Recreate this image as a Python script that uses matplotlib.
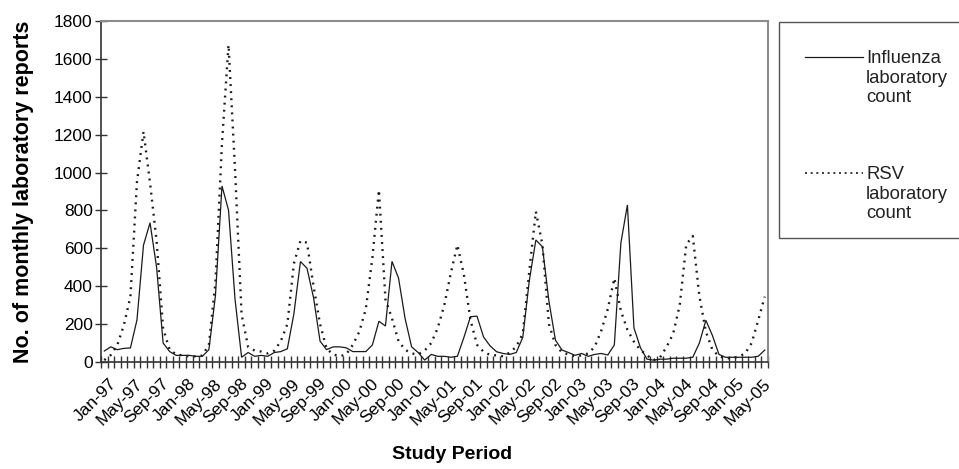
import matplotlib
matplotlib.use("Agg")
import matplotlib.pyplot as plt
import matplotlib.transforms as mtransforms
import numpy as np
import pandas as pd
from matplotlib.lines import Line2D
from matplotlib.patches import Rectangle

plt.rcParams["font.family"] = ["Liberation Sans", "DejaVu Sans"]

# monthly laboratory counts, Jan-97 .. Jun-05
months = pd.date_range("1997-01-01", periods=102, freq="MS")
month_labels = [d.strftime("%b-%y") for d in months]

influenza = [
    58, 80, 65, 72, 74, 222, 617, 735, 500, 100, 55, 35,      # 1997
    35, 35, 30, 30, 65, 350, 929, 802, 330, 25, 50, 30,       # 1998
    35, 30, 50, 55, 70, 255, 530, 495, 340, 110, 65, 80,      # 1999
    80, 75, 55, 55, 55, 90, 215, 190, 531, 443, 230, 80,      # 2000
    50, 10, 40, 30, 30, 25, 30, 130, 239, 242, 132, 85,       # 2001
    54, 45, 40, 50, 130, 430, 644, 609, 320, 115, 63, 50,     # 2002
    35, 45, 30, 40, 45, 37, 90, 628, 829, 180, 75, 15,        # 2003
    10, 15, 15, 20, 20, 20, 25, 100, 220, 140, 40, 25,        # 2004
    25, 25, 25, 25, 30, 63,                                   # 2005
]
rsv = [
    10, 37, 90, 195, 345, 950, 1216, 945, 640, 176, 65, 40,   # 1997
    35, 30, 30, 35, 90, 420, 1155, 1674, 1014, 250, 80, 60,   # 1998
    55, 45, 60, 110, 200, 520, 640, 630, 400, 200, 70, 40,    # 1999
    30, 40, 90, 160, 280, 550, 908, 330, 230, 110, 65, 45,    # 2000
    40, 60, 100, 180, 300, 470, 618, 460, 222, 91, 54, 37,    # 2001
    35, 30, 50, 80, 150, 480, 794, 620, 200, 90, 50, 40,      # 2002
    30, 35, 45, 80, 165, 280, 442, 270, 170, 107, 63, 35,     # 2003
    10, 25, 80, 150, 300, 620, 665, 350, 160, 65, 30, 20,     # 2004
    20, 28, 45, 100, 220, 345,                                # 2005
]

W, H = 959, 469
fig = plt.figure(figsize=(W / 100, H / 100), dpi=100)
ax = fig.add_axes([101 / W, 1 - 362 / H, 667 / W, 341 / H])

x = np.arange(len(months))
ax.plot(x, influenza, color="#1a1a1a", lw=0.9, solid_joinstyle="miter")
ax.plot(x, rsv, color="#1a1a1a", lw=1.7, linestyle=(0, (0.8, 2.2)))

ax.set_xlim(-0.5, len(months) - 0.5)
ax.set_ylim(0, 1800)
ax.set_yticks(np.arange(0, 1801, 200))
ax.tick_params(axis="y", direction="inout", length=8, width=1.0, labelsize=12.5, pad=2, color="#333333")

# labels every 4 months, tick marks on the month boundaries
ax.set_xticks(x[::4])
ax.set_xticklabels(month_labels[::4], rotation=45, ha="right", va="top", rotation_mode="anchor")
ax.set_xticks(np.arange(-0.5, len(months), 1), minor=True)
ax.tick_params(axis="x", which="major", length=0, labelsize=12.5, pad=10)
ax.tick_params(axis="x", which="minor", direction="inout", length=9, width=1.0, color="#333333")
shift = mtransforms.ScaledTranslation(5 / 100, 0, fig.dpi_scale_trans)
for lab in ax.get_xticklabels():
    lab.set_transform(lab.get_transform() + shift)

for side in ["top", "right"]:
    ax.spines[side].set_color("#8c8c8c")
    ax.spines[side].set_linewidth(1.5)
for side in ["left", "bottom"]:
    ax.spines[side].set_color("#333333")
    ax.spines[side].set_linewidth(1.2)

ax.set_ylabel("No. of monthly laboratory reports", fontsize=15.5, fontweight="bold")
ax.yaxis.set_label_coords(-0.101, 0.5)
ax.set_xlabel("Study Period", fontsize=14, fontweight="bold")
ax.xaxis.set_label_coords(0.526, -0.245)

# legend box on the right, drawn by hand so it keeps the original proportions
fig.add_artist(Rectangle((779 / W, 1 - 238 / H), 185 / W, 216 / H, transform=fig.transFigure,
                         facecolor="white", edgecolor="#555555", lw=1.0))
fig.add_artist(Line2D([805 / W, 863 / W], [1 - 57 / H] * 2, transform=fig.transFigure,
                      color="#1a1a1a", lw=0.9))
fig.add_artist(Line2D([805 / W, 863 / W], [1 - 173 / H] * 2, transform=fig.transFigure,
                      color="#1a1a1a", lw=1.2, linestyle=(0, (1.2, 2.2))))
fig.text(866 / W, 1 - 50 / H, "Influenza\nlaboratory\ncount", fontsize=13.3, va="top",
         ha="left", linespacing=1.2, color="#222222")
fig.text(866 / W, 1 - 166 / H, "RSV\nlaboratory\ncount", fontsize=13.3, va="top",
         ha="left", linespacing=1.2, color="#222222")

fig.savefig("out.png", dpi=100)
plt.close(fig)
